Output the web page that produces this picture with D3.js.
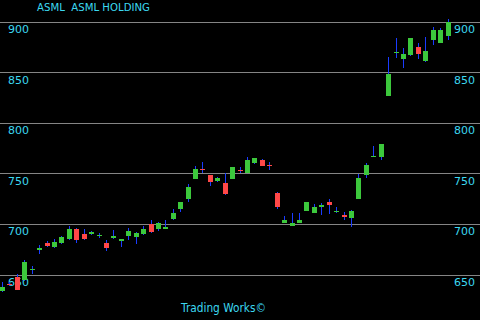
<!DOCTYPE html>
<html>
<head>
  <meta charset="utf-8">
  <script src="https://cdn.jsdelivr.net/npm/d3@7/dist/d3.min.js"></script>
  <style>
    body { margin: 0; background: #000; }
    #chart { display: block; background: #000; }
    .lbl text { fill: #3cd8f0; font-family: "DejaVu Sans", sans-serif; font-size: 11px; }
  </style>
</head>
<body>
  <svg id="chart" width="480" height="320"></svg>
  <script>
    // daily candles
    var opens  = [633.2, 640.5, 647.0, 644.0, 654.8, 673.7, 680.6, 676.7, 680.6, 684.6,
                  694.5, 689.5, 689.5, 688.3, 680.6, 685.6, 682.6, 687.5, 686.6, 689.5,
                  699.4, 694.5, 694.5, 704.3, 714.2, 724.1, 743.9, 754.0, 747.8, 741.9,
                  739.9, 743.9, 753.0, 749.8, 759.7, 762.6, 757.7, 730.0, 700.4, 697.4,
                  700.4, 712.2, 710.3, 716.2, 721.1, 712.0, 708.3, 705.3, 724.1, 747.8,
                  766.4, 765.6, 825.9, 869.2, 862.5, 866.4, 874.3, 860.5, 881.2, 878.3, 885.2];
    var highs  = [642.1, 642.0, 650.0, 663.8, 657.9, 678.7, 682.6, 684.6, 687.5, 697.4,
                  695.4, 694.5, 692.5, 690.5, 683.6, 693.5, 684.8, 695.4, 691.5, 697.4,
                  703.4, 701.0, 703.4, 714.2, 721.5, 738.9, 756.7, 760.7, 748.0, 745.8,
                  749.8, 756.0, 755.7, 765.6, 765.0, 763.6, 760.7, 731.0, 707.3, 710.3,
                  710.3, 721.5, 719.2, 720.1, 724.1, 716.2, 711.3, 713.2, 748.8, 759.7,
                  776.5, 778.6, 864.4, 883.2, 873.3, 883.5, 878.3, 884.2, 894.1, 893.1, 902.0];
    var lows   = [632.2, 638.0, 634.0, 643.5, 650.0, 669.8, 677.0, 676.0, 680.0, 684.0,
                  680.6, 684.0, 688.5, 685.6, 672.7, 684.6, 676.7, 683.6, 679.6, 688.5,
                  691.0, 692.5, 694.0, 703.4, 711.3, 721.1, 743.5, 749.8, 736.9, 740.9,
                  728.5, 743.5, 749.8, 749.5, 758.7, 756.5, 752.8, 714.2, 700.0, 697.0,
                  700.0, 712.0, 710.0, 708.3, 709.3, 710.3, 703.4, 696.4, 724.0, 744.8,
                  766.0, 762.6, 825.5, 863.4, 853.6, 865.5, 862.5, 859.5, 876.3, 878.0, 881.2];
    var closes = [637.2, 640.0, 634.2, 661.9, 655.2, 675.7, 677.7, 681.6, 686.6, 694.5,
                  683.6, 684.6, 691.5, 688.7, 675.7, 687.5, 684.6, 692.5, 690.5, 694.5,
                  691.5, 700.4, 696.4, 710.3, 721.1, 736.0, 753.7, 753.5, 740.9, 744.8,
                  729.0, 755.7, 752.5, 762.6, 764.6, 756.7, 756.7, 716.2, 703.4, 700.4,
                  703.4, 721.1, 716.2, 718.2, 718.2, 712.4, 706.3, 712.2, 744.8, 757.7,
                  766.8, 778.4, 847.6, 869.6, 867.4, 883.2, 867.4, 870.4, 891.1, 891.1, 899.0];
    var priceTicks = [650, 700, 750, 800, 850, 900];

    var data = opens.map(function(o, i) {
      return { i: i, open: o, high: highs[i], low: lows[i], close: closes[i] };
    });

    var svg = d3.select("#chart");
    var width = 480;

    var x = d3.scalePoint()
      .domain(d3.range(data.length))
      .range([2, 447.5]);

    var y = d3.scaleLinear()
      .domain([650, 900])
      .range([274, 21]);

    // grid lines
    var grid = svg.append("g")
      .attr("transform", "translate(" + width + ",0)")
      .call(d3.axisLeft(y).tickValues(priceTicks).tickSize(width).tickFormat(""));
    grid.select(".domain").remove();
    grid.selectAll("line").attr("stroke", "#858585").attr("shape-rendering", "crispEdges")
      .attr("transform", "translate(0,0.5)");

    // price labels, sitting just under each grid line
    var left = svg.append("g")
      .attr("class", "lbl")
      .attr("transform", "translate(8,0)")
      .call(d3.axisRight(y).tickValues(priceTicks).tickSize(0).tickPadding(0));
    left.select(".domain").remove();
    left.selectAll("text").attr("dy", "1.05em");

    var right = svg.append("g")
      .attr("class", "lbl")
      .attr("transform", "translate(475,0)")
      .call(d3.axisLeft(y).tickValues(priceTicks).tickSize(0).tickPadding(0));
    right.select(".domain").remove();
    right.selectAll("text").attr("dy", "1.05em");

    var candles = svg.append("g").selectAll("g")
      .data(data)
      .enter()
      .append("g");

    // wicks
    candles.append("line")
      .attr("x1", function(d) { return Math.round(x(d.i)) + 0.5; })
      .attr("x2", function(d) { return Math.round(x(d.i)) + 0.5; })
      .attr("y1", function(d) { return Math.round(y(d.high)); })
      .attr("y2", function(d) { return Math.round(y(d.low)); })
      .attr("stroke", "#1a3cff")
      .attr("shape-rendering", "crispEdges");

    // bodies
    candles.append("rect")
      .attr("x", function(d) { return Math.round(x(d.i)) - 2; })
      .attr("width", 5)
      .attr("y", function(d) { return Math.round(y(Math.max(d.open, d.close))); })
      .attr("height", function(d) { return Math.max(1, Math.round(Math.abs(y(d.open) - y(d.close)))); })
      .attr("fill", function(d) { return d.close >= d.open ? "#3cc83c" : "#ff4848"; })
      .attr("shape-rendering", "crispEdges");

    svg.append("text")
      .attr("x", 37)
      .attr("y", 11)
      .attr("fill", "#3cd8f0")
      .attr("font-family", "DejaVu Sans, sans-serif")
      .attr("font-size", 11)
      .attr("textLength", 113)
      .attr("lengthAdjust", "spacingAndGlyphs")
      .attr("xml:space", "preserve")
      .text("ASML  ASML HOLDING");

    svg.append("text")
      .attr("x", 181)
      .attr("y", 312)
      .attr("fill", "#3cd8f0")
      .attr("font-family", "DejaVu Sans, sans-serif")
      .attr("font-size", 12)
      .attr("textLength", 85)
      .attr("lengthAdjust", "spacingAndGlyphs")
      .text("Trading Works©");
  </script>
</body>
</html>
